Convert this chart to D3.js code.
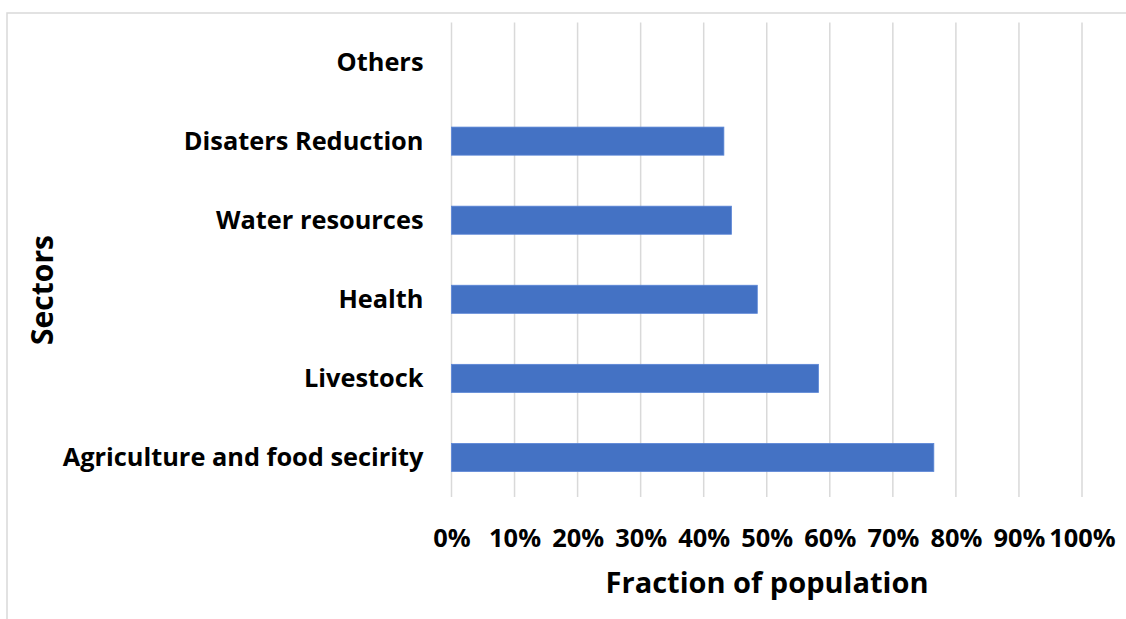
<!DOCTYPE html>
<html>
<head>
<meta charset="utf-8">
<script src="https://cdn.jsdelivr.net/npm/d3@7"></script>
<style>
  html, body { margin: 0; padding: 0; background: #fff; }
  svg { display: block; }
  text { font-family: "Open Sans", Lato, sans-serif; font-weight: 700; fill: #000; }
</style>
</head>
<body>
<svg id="chart" width="1126" height="619"></svg>
<script>
// Sectors, listed top to bottom as drawn
const sectors = [
  "Others",
  "Disaters Reduction",
  "Water resources",
  "Health",
  "Livestock",
  "Agriculture and food secirity"
];
// Fraction of population per sector (percent)
const fractions = [0, 43.2, 44.4, 48.5, 58.2, 76.5];
// X axis ticks (percent)
const xTicks = [0, 10, 20, 30, 40, 50, 60, 70, 80, 90, 100];

const svg = d3.select("#chart");
const W = 1126, H = 619;
const plot = { left: 451.5, right: 1082, top: 22.5, bottom: 497 };

// Resize a text selection so that a reference string spans the given width
function fitFont(sel, sample, targetWidth, base) {
  const probe = svg.append("text").attr("font-size", base).text(sample);
  const w = probe.node().getComputedTextLength();
  probe.remove();
  const size = base * targetWidth / w;
  sel.attr("font-size", size);
  return size;
}

// Chart-area frame
svg.append("rect")
  .attr("x", 7).attr("y", 13)
  .attr("width", W + 20).attr("height", H + 20)
  .attr("fill", "none")
  .attr("stroke", "#d9d9d9")
  .attr("stroke-width", 1.5);

const x = d3.scaleLinear().domain([0, 100]).range([plot.left, plot.right]);
const y = d3.scaleBand().domain(sectors).range([plot.top, plot.bottom]).paddingInner(0).paddingOuter(0);
const barH = y.bandwidth() * 0.355;

// Vertical gridlines
svg.append("g")
  .selectAll("line")
  .data(xTicks)
  .join("line")
  .attr("x1", d => x(d)).attr("x2", d => x(d))
  .attr("y1", plot.top).attr("y2", plot.bottom)
  .attr("stroke", "#d9d9d9")
  .attr("stroke-width", 1.5);

// Bars
svg.append("g")
  .selectAll("rect")
  .data(sectors.map((s, i) => ({ s, v: fractions[i] })).filter(d => d.v > 0))
  .join("rect")
  .attr("x", x(0))
  .attr("y", d => y(d.s) + (y.bandwidth() - barH) / 2)
  .attr("width", d => x(d.v) - x(0))
  .attr("height", barH)
  .attr("fill", "#4472c4")
  .attr("stroke", "#5b86d6")
  .attr("stroke-width", 0.8);

// Category labels
const yAxis = d3.axisLeft(y).tickSize(0).tickPadding(0);
const gy = svg.append("g").attr("transform", `translate(${plot.left - 28},0)`).call(yAxis);
gy.select(".domain").remove();
const catText = gy.selectAll("text")
  .attr("font-family", "'Open Sans', Lato, sans-serif")
  .attr("font-weight", 700)
  .attr("fill", "#000")
  .attr("dy", "0.35em");
fitFont(catText, "Agriculture and food secirity", 361, 24);

// X tick labels
const xAxis = d3.axisBottom(x).tickValues(xTicks).tickSize(0).tickPadding(0).tickFormat(d => d + "%");
const gx = svg.append("g").attr("transform", `translate(0,${538})`).call(xAxis);
gx.select(".domain").remove();
const tickText = gx.selectAll("text")
  .attr("font-family", "'Open Sans', Lato, sans-serif")
  .attr("font-weight", 700)
  .attr("fill", "#000")
  .attr("dy", "0.35em")
  .attr("y", 0);
fitFont(tickText, "10%", 52, 24);

// Axis titles
const xTitle = svg.append("text")
  .attr("x", 767).attr("y", 583)
  .attr("text-anchor", "middle")
  .attr("dy", "0.35em")
  .text("Fraction of population");
fitFont(xTitle, "Fraction of population", 323, 28);

const yTitle = svg.append("text")
  .attr("transform", "translate(42,290) rotate(-90)")
  .attr("text-anchor", "middle")
  .attr("dy", "0.35em")
  .text("Sectors");
fitFont(yTitle, "Sectors", 110, 28);
</script>
</body>
</html>
